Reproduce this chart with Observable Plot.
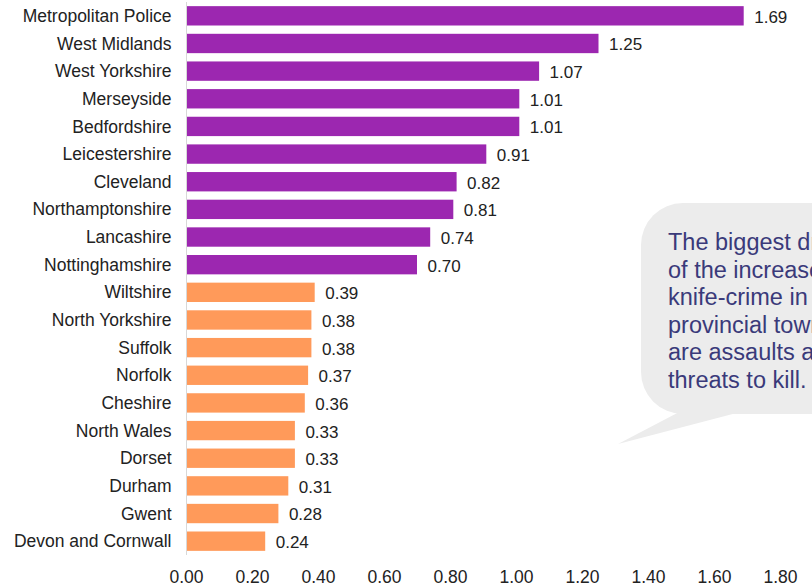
<!DOCTYPE html>
<html>
<head>
<meta charset="utf-8">
<script src="https://cdn.jsdelivr.net/npm/d3@7"></script>
<script src="https://cdn.jsdelivr.net/npm/@observablehq/plot@0.6"></script>
<style>
  html, body { margin: 0; padding: 0; background: #fff; }
  #chart svg { display: block; }
</style>
</head>
<body>
<div id="chart"></div>
<script>
const forces = ["Metropolitan Police","West Midlands","West Yorkshire","Merseyside","Bedfordshire","Leicestershire","Cleveland","Northamptonshire","Lancashire","Nottinghamshire","Wiltshire","North Yorkshire","Suffolk","Norfolk","Cheshire","North Wales","Dorset","Durham","Gwent","Devon and Cornwall"];
const values = [1.69,1.25,1.07,1.01,1.01,0.91,0.82,0.81,0.74,0.70,0.39,0.38,0.38,0.37,0.36,0.33,0.33,0.31,0.28,0.24];
const groups = ["high","high","high","high","high","high","high","high","high","high","low","low","low","low","low","low","low","low","low","low"];
const xTicks = [0,0.2,0.4,0.6,0.8,1.0,1.2,1.4,1.6,1.8];
const calloutLines = ["The biggest drivers","of the increase in","knife-crime in","provincial towns","are assaults and","threats to kill."];

const data = forces.map((f, i) => ({force: f, value: values[i], group: groups[i]}));

const plot = Plot.plot({
  width: 812,
  height: 586,
  marginLeft: 186,
  marginRight: 32,
  marginTop: 2,
  marginBottom: 31,
  style: {fontFamily: "'Liberation Sans', Arial, sans-serif", fontSize: "17.5px", color: "#222", background: "#fff"},
  x: {domain: [0, 1.8], ticks: xTicks, tickFormat: d => d.toFixed(2), tickSize: 0, tickPadding: 15, label: null},
  y: {domain: forces, paddingInner: 0.3, paddingOuter: 0.15, round: false, tickSize: 0, tickPadding: 15, label: null},
  color: {domain: ["high","low"], range: ["#9c27b0","#ff9a5a"]},
  marks: [
    Plot.barX(data, {x: "value", y: "force", fill: "group"}),
    Plot.ruleX([0], {stroke: "#d8d8d8", strokeWidth: 1}),
    Plot.text(data, {x: "value", y: "force", text: d => d.value.toFixed(2), textAnchor: "start", dx: 10, dy: 1, fill: "#222", fontSize: 17})
  ]
});

document.getElementById("chart").appendChild(plot);

// Speech-bubble callout
const svg = d3.select(plot);
const g = svg.append("g");
g.append("path")
  .attr("d", "M 683 410 L 618 444 L 748 410 Z")
  .attr("fill", "#ececec");
g.append("rect")
  .attr("x", 641).attr("y", 203).attr("width", 260).attr("height", 211)
  .attr("rx", 42).attr("ry", 42)
  .attr("fill", "#ececec");
const t = g.append("text")
  .attr("font-family", "'Liberation Sans', Arial, sans-serif")
  .attr("font-size", 23.5)
  .attr("text-anchor", "start")
  .attr("fill", "#3a3a7a");
calloutLines.forEach((line, i) => {
  t.append("tspan").attr("x", 668).attr("y", 250 + i * 27.6).text(line);
});
</script>
</body>
</html>
